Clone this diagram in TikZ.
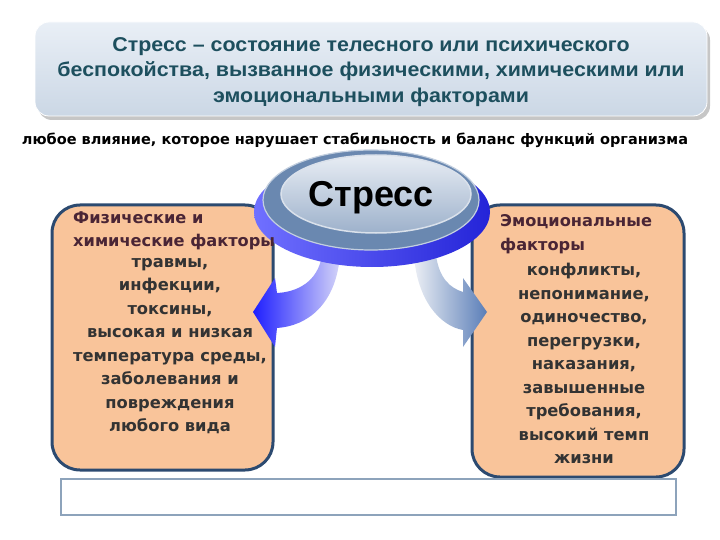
\documentclass[tikz,border=0pt]{standalone}
\usepackage{fontspec}
\setmainfont{DejaVu Sans}
\newfontfamily\titlefont[FakeStretch=1.07]{Liberation Sans}
\newfontfamily\arialfont{Liberation Sans}
\usetikzlibrary{shapes.geometric,shadows}
\definecolor{titletxt}{HTML}{1D4F5E}
\definecolor{titletop}{HTML}{E9EFF6}
\definecolor{titlebot}{HTML}{CBD7E5}
\definecolor{peach}{HTML}{F9C49A}
\definecolor{navy}{HTML}{2C4A70}
\definecolor{headtxt}{HTML}{4A2535}
\definecolor{listtxt}{HTML}{333333}
\definecolor{discblue}{HTML}{2424D8}
\definecolor{disclight}{HTML}{7070FF}
\definecolor{facegray}{HTML}{6A88B0}
\definecolor{innertop}{HTML}{E8EDF4}
\definecolor{innerbot}{HTML}{9DB1CB}
\definecolor{framegray}{HTML}{8DA3BB}
\definecolor{arrblue}{HTML}{1E1EFF}
\definecolor{arrlav}{HTML}{D4D4F8}
\definecolor{arrsteel}{HTML}{5A7EB8}
\definecolor{arrpale}{HTML}{EBEEF4}
\tikzset{
  titlebox/.style={rounded corners=14pt, top color=titletop, bottom color=titlebot,
    draw=white, line width=0.8pt, drop shadow={shadow xshift=3pt, shadow yshift=-4pt, opacity=0.45},
    minimum width=672pt, minimum height=94pt, inner sep=0pt},
  titletext/.style={align=center, text=titletxt, inner sep=0pt,
    font={\titlefont\bfseries\fontsize{20}{25.5}\selectfont}},
  factorbox/.style={rounded corners=28pt, fill=peach, draw=navy, line width=3pt},
  headtext/.style={align=left, text=headtxt, font=\bfseries\fontsize{16.2}{23.5}\selectfont, inner sep=0pt},
  listtext/.style={align=center, text=listtxt, font=\bfseries\fontsize{16.3}{23.5}\selectfont, inner sep=0pt},
}
\begin{document}
\begin{tikzpicture}[x=1pt,y=-1pt]
\useasboundingbox (0,0) rectangle (720,540);
% title
\node[titlebox] (title) at (371,69) {};
\node[titletext] (titletxt) at (371,72) {Стресс – состояние телесного или психического\\
  беспокойства, вызванное физическими, химическими или\\
  эмоциональными факторами};
\node[font=\bfseries\fontsize{14.5}{16}\selectfont, inner sep=0pt] (sub) at (355,140)
  {любое влияние, которое нарушает стабильность и баланс функций организма};
% factor boxes
\path[factorbox] (52,205) rectangle (273,470);
\node[inner sep=0pt, minimum width=221pt, minimum height=265pt] (leftbox) at (162.5,337.5) {};
\path[factorbox] (472,205) rectangle (684,477);
\node[inner sep=0pt, minimum width=212pt, minimum height=272pt] (rightbox) at (578,341) {};
% curved arrows (drawn under the disc)
\shade[left color=arrblue, right color=arrlav] (322,255) .. controls (318,282) and (297,292) .. (277,293) -- (275,278) -- (253,312) -- (275,347) -- (277,328) .. controls (307,326) and (336,305) .. (340,255) -- cycle;
\shade[left color=arrpale, right color=arrsteel] (414,255) .. controls (417,300) and (440,326) .. (463,330) -- (463,347) -- (487,312) -- (463,278) -- (463,292) .. controls (450,288) and (439,278) .. (436,255) -- cycle;
% stress disc
\node[ellipse, minimum width=236pt, minimum height=110pt, left color=disclight, right color=discblue, inner sep=0pt] (disc) at (372,212) {};
\node[ellipse, minimum width=216pt, minimum height=100pt, fill=facegray, draw=white!60!facegray, line width=1.2pt, inner sep=0pt] (face) at (371,200) {};
\node[ellipse, minimum width=190pt, minimum height=78pt, top color=innertop, bottom color=innerbot, draw=white!75!facegray, line width=1.5pt, inner sep=0pt] (inner) at (376,194) {};
\node[font=\arialfont\bfseries\fontsize{36}{38}\selectfont, inner sep=0pt] (stress) at (371,198) {Стресс};
% box texts
\node[headtext, anchor=base west] (lhead) at (73,247) {Физические и\\химические факторы};
\node[listtext, anchor=north] (llist) at (170,258) {травмы,\\инфекции,\\токсины,\\высокая и низкая\\температура среды,\\заболевания и\\повреждения\\любого вида};
\node[headtext, anchor=base west] (rhead) at (500,250) {Эмоциональные\\факторы};
\node[listtext, anchor=north] (rlist) at (584,263) {конфликты,\\непонимание,\\одиночество,\\перегрузки,\\наказания,\\завышенные\\требования,\\высокий темп\\жизни};
% bottom frame
\node[draw=framegray, line width=1.5pt, fill=white, minimum width=615pt, minimum height=36pt, inner sep=0pt] (bottom) at (368.5,497) {};
\end{tikzpicture}
\end{document}
